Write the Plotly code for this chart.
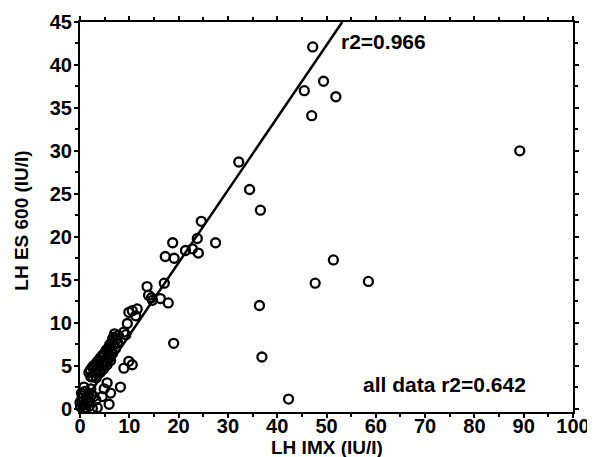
import plotly.graph_objects as go

# LH IMX (x) vs LH ES 600 (y), IU/l
lh_imx = [
    # high outliers / upper arm
    89.2, 47.2, 49.4, 45.5, 51.9, 47.0, 32.2, 34.4, 36.6, 24.6, 23.8, 18.8, 27.5,
    17.3, 19.1, 21.4, 22.8, 24.0, 17.1, 13.6, 14.7, 16.3, 17.9, 13.9, 14.5,
    # below line
    51.4, 47.7, 58.5, 36.4, 36.9, 42.3, 19.0,
    # 9-12 group
    10.6, 11.6, 9.9, 11.3, 9.6, 8.9, 9.3,
    # mid-lower open circles
    5.8, 8.9, 9.9, 10.6, 5.5, 4.9, 6.2, 5.9, 8.2, 4.5,
    # dense band (overlapping)
    1.8, 2.5, 3.2, 3.9, 4.6, 5.3, 6.0, 6.6, 7.0,
    2.2, 2.9, 3.6, 4.3, 5.0, 5.7, 6.3, 6.9, 7.4, 7.8,
    3.3, 4.1, 4.8, 5.5, 6.2,
    2.1, 2.8, 3.5, 4.2, 4.9, 5.6, 6.3, 6.8,
    2.6, 3.3, 3.9, 4.7, 5.4, 6.0, 6.6, 7.2, 7.6,
    # near origin
    -1.9, -0.2, 0.8, 0.1, 1.1, 0.5, 1.5, 2.5, 2.8, 1.8, 1.2, 0.3, 2.0, 3.5,
    3.2, 1.0, 2.2, 0.6, 0.4, 1.6, 2.4, 0.9, 1.9, 0.0,
]
lh_es600 = [
    30.0, 42.1, 38.1, 37.0, 36.3, 34.1, 28.7, 25.5, 23.1, 21.8, 19.8, 19.3, 19.3,
    17.7, 17.5, 18.4, 18.6, 18.1, 14.6, 14.2, 12.6, 12.8, 12.3, 13.2, 12.9,
    17.3, 14.6, 14.8, 12.0, 6.0, 1.1, 7.6,
    11.4, 11.6, 11.2, 10.8, 9.9, 8.9, 8.6,
    7.0, 4.7, 5.5, 5.1, 3.0, 2.3, 1.8, 0.5, 2.5, 1.4,
    4.2, 4.8, 5.2, 5.7, 6.2, 6.8, 7.4, 8.1, 8.7,
    3.7, 4.2, 4.7, 5.2, 5.6, 6.1, 6.7, 7.4, 8.1, 8.5,
    3.6, 4.2, 4.6, 5.1, 5.6,
    4.5, 5.0, 5.45, 5.95, 6.4, 6.95, 7.6, 8.3,
    3.7, 4.2, 4.5, 5.0, 5.4, 5.9, 6.4, 7.0, 7.7,
    0.4, 1.4, 2.5, 0.2, 0.1, 0.8, 0.6, 0.0, 1.4, 1.8, 1.2, 1.8, 0.8, 0.1,
    1.0, 2.0, 2.3, 0.4, 1.2, 1.3, 1.6, 0.5, 0.3, 0.7,
]

# regression line endpoints (r2=0.966 subset fit)
fit_x = [0.0, 53.2]
fit_y = [0.1, 45.0]

x_ticks = [0, 10, 20, 30, 40, 50, 60, 70, 80, 90, 100]
y_ticks = [0, 5, 10, 15, 20, 25, 30, 35, 40, 45]

FONT = "Liberation Sans"

fig = go.Figure()
fig.add_trace(go.Scatter(
    x=fit_x, y=fit_y, mode="lines",
    line=dict(color="black", width=2.5),
    showlegend=False, hoverinfo="skip",
))
fig.add_trace(go.Scatter(
    x=lh_imx, y=lh_es600, mode="markers",
    marker=dict(symbol="circle-open", size=9, color="black",
                line=dict(color="black", width=2.3)),
    cliponaxis=False, showlegend=False,
))

axis_common = dict(
    showline=True, linecolor="black", linewidth=2, mirror="ticks",
    ticks="outside", ticklen=4, tickwidth=1.5, tickcolor="black",
    showgrid=False, zeroline=False, automargin=False,
    tickfont=dict(family=FONT, size=20, color="black", weight="bold"),
)

fig.update_xaxes(range=[0, 100], tickvals=x_ticks,
                 ticktext=[str(v) for v in x_ticks],
                 ticklabelstandoff=-9,
                 minor=dict(dtick=5, ticks="outside", ticklen=3, tickcolor="black"),
                 **axis_common)
fig.update_yaxes(range=[-0.4, 45], tickvals=y_ticks,
                 ticktext=[str(v) for v in y_ticks],
                 ticklabelstandoff=-2,
                 minor=dict(dtick=2.5, ticks="outside", ticklen=3, tickcolor="black"),
                 **axis_common)

fig.add_annotation(x=52.6, y=42.7, xref="x", yref="y", text="r2=0.966",
                   showarrow=False, xanchor="left", yanchor="middle",
                   font=dict(family=FONT, size=21, color="black", weight="bold"))
fig.add_annotation(x=57.0, y=2.8, xref="x", yref="y", text="all data r2=0.642",
                   showarrow=False, xanchor="left", yanchor="middle",
                   font=dict(family=FONT, size=21, color="black", weight="bold"))
fig.add_annotation(x=0.5, y=-0.091, xref="paper", yref="paper", text="LH IMX (IU/I)",
                   showarrow=False, xanchor="center", yanchor="middle",
                   font=dict(family=FONT, size=19, color="black", weight="bold"))
fig.add_annotation(x=-0.118, y=0.49, xref="paper", yref="paper", text="LH ES 600 (IU/I)",
                   showarrow=False, xanchor="center", yanchor="middle", textangle=-90,
                   font=dict(family=FONT, size=19, color="black", weight="bold"))

# page body has an 8px default margin, so size the figure to fit the window
fig.update_layout(
    width=587, height=449,
    margin=dict(l=72, r=22, t=14, b=45),
    paper_bgcolor="white", plot_bgcolor="white",
    showlegend=False,
)

fig.write_html("out.html")
